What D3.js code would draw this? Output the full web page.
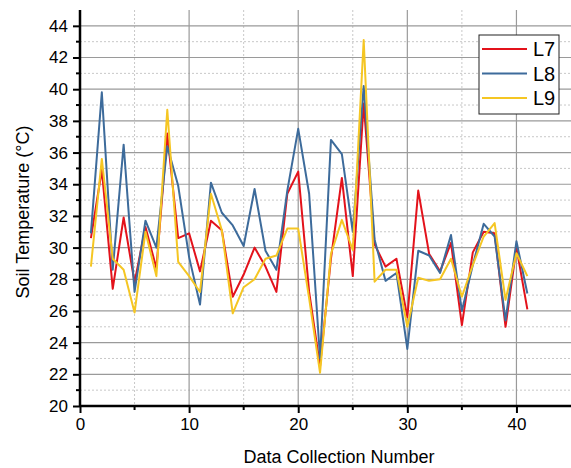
<!DOCTYPE html>
<html>
<head>
<meta charset="utf-8">
<script src="https://d3js.org/d3.v7.min.js"></script>
<style>
  html, body { margin: 0; padding: 0; background: #fff; }
  text { font-family: "Liberation Sans", Arial, sans-serif; fill: #000; }
</style>
</head>
<body>
<script>
// Data
const collectionNumber = [1,2,3,4,5,6,7,8,9,10,11,12,13,14,15,16,17,18,19,20,
  21,22,23,24,25,26,27,28,29,30,31,32,33,34,35,36,37,38,39,40,41];
const l7 = [30.6,34.9,27.4,31.9,27.8,31.3,28.7,37.2,30.6,30.9,28.5,31.7,31.1,26.9,28.3,30.0,28.8,27.2,33.4,34.8,
  27.2,22.5,29.3,34.4,28.2,39.1,30.2,28.8,29.3,25.6,33.6,29.6,28.5,30.3,25.1,29.7,31.0,30.9,25.0,30.0,26.1];
const l8 = [30.9,39.8,28.6,36.5,27.2,31.7,30.0,36.4,33.9,29.4,26.4,34.1,32.2,31.4,30.1,33.7,29.8,28.6,33.6,37.5,
  33.4,23.0,36.8,35.9,31.0,40.2,30.5,27.9,28.4,23.6,29.8,29.5,28.4,30.8,26.0,28.9,31.5,30.7,25.4,30.4,27.1];
const l9 = [28.8,35.6,29.3,28.6,25.9,31.0,28.2,38.7,29.1,28.2,27.2,33.4,31.1,25.85,27.5,28.0,29.3,29.5,31.2,31.2,
  26.8,22.1,29.6,31.75,29.85,43.1,27.85,28.6,28.6,25.0,28.1,27.9,28.0,29.3,26.9,28.9,30.7,31.55,26.7,29.65,28.2];
const seriesNames = ["L7", "L8", "L9"];
const xTicks = [0, 10, 20, 30, 40];
const yTicks = [20, 22, 24, 26, 28, 30, 32, 34, 36, 38, 40, 42, 44];

const width = 571, height = 468;
const pLeft = 80, pRight = 571, pTop = 10, pBottom = 406;
const colors = ["#e3121b", "#3d6b9b", "#f5c623"];

const svg = d3.select("body").append("svg")
  .attr("width", width).attr("height", height);

const x = d3.scaleLinear().domain([0, 45]).range([pLeft, pRight]);
const y = d3.scaleLinear().domain([20, 45]).range([pBottom, pTop]);

// grid: minor dotted, major solid
const grid = svg.append("g");
const xMinor = d3.range(5, 45, 10), yMinor = d3.range(21, 45, 2);
grid.selectAll(".xm").data(xMinor).enter().append("line")
  .attr("x1", d => x(d)).attr("x2", d => x(d)).attr("y1", pTop).attr("y2", pBottom)
  .attr("stroke", "#c8c8c8").attr("stroke-dasharray", "2,2");
grid.selectAll(".ym").data(yMinor).enter().append("line")
  .attr("x1", pLeft).attr("x2", pRight).attr("y1", d => y(d)).attr("y2", d => y(d))
  .attr("stroke", "#c8c8c8").attr("stroke-dasharray", "2,2");
grid.selectAll(".xg").data(xTicks.slice(1)).enter().append("line")
  .attr("x1", d => x(d)).attr("x2", d => x(d)).attr("y1", pTop).attr("y2", pBottom)
  .attr("stroke", "#9a9a9a").attr("stroke-width", 1.2);
grid.selectAll(".yg").data(yTicks.slice(1)).enter().append("line")
  .attr("x1", pLeft).attr("x2", pRight).attr("y1", d => y(d)).attr("y2", d => y(d))
  .attr("stroke", "#9a9a9a").attr("stroke-width", 1.2);

// lines
const line = d3.line().x((d, i) => x(collectionNumber[i])).y(d => y(d));
[l7, l8, l9].forEach((s, k) => {
  svg.append("path").datum(s)
    .attr("d", line)
    .attr("fill", "none")
    .attr("stroke", colors[k])
    .attr("stroke-width", 2)
    .attr("stroke-linejoin", "round");
});

// axes
const xAxis = svg.append("g").attr("transform", `translate(0,${pBottom})`)
  .call(d3.axisBottom(x).tickValues(xTicks).tickSize(7).tickPadding(5).tickFormat(d3.format("d")));
xAxis.append("g").selectAll("line").data(xMinor).enter().append("line")
  .attr("x1", d => x(d)).attr("x2", d => x(d)).attr("y1", 0).attr("y2", 4)
  .attr("stroke", "#000").attr("stroke-width", 2);
const yAxis = svg.append("g").attr("transform", `translate(${pLeft},0)`)
  .call(d3.axisLeft(y).tickValues(yTicks).tickSize(7).tickPadding(5).tickFormat(d3.format("d")));
yAxis.append("g").selectAll("line").data(yMinor).enter().append("line")
  .attr("y1", d => y(d)).attr("y2", d => y(d)).attr("x1", 0).attr("x2", -4)
  .attr("stroke", "#000").attr("stroke-width", 2);

[xAxis, yAxis].forEach(a => {
  a.select(".domain").attr("stroke", "#000").attr("stroke-width", 2.5);
  a.selectAll(".tick line").attr("stroke", "#000").attr("stroke-width", 2);
  a.selectAll(".tick text").style("font-size", "17px")
    .style("font-family", "'Liberation Sans', Arial, sans-serif");
});
xAxis.select(".domain").attr("d", `M${pLeft},0H${pRight}`);
yAxis.select(".domain").attr("d", `M0,${pBottom}V${pTop}`);

// axis titles
svg.append("text")
  .attr("x", 339).attr("y", 463)
  .attr("text-anchor", "middle")
  .style("font-size", "18px")
  .text("Data Collection Number");
svg.append("text")
  .attr("transform", `translate(29,212) rotate(-90)`)
  .attr("text-anchor", "middle")
  .style("font-size", "18px")
  .text("Soil Temperature (°C)");

// legend
const legend = svg.append("g");
legend.append("rect")
  .attr("x", 479).attr("y", 35).attr("width", 80).attr("height", 79)
  .attr("fill", "#fff").attr("stroke", "#222").attr("stroke-width", 1);
seriesNames.forEach((name, k) => {
  const ly = 49 + k * 24.5;
  legend.append("line")
    .attr("x1", 482).attr("x2", 527).attr("y1", ly).attr("y2", ly)
    .attr("stroke", colors[k]).attr("stroke-width", 2);
  legend.append("text")
    .attr("x", 533).attr("y", ly + 7)
    .style("font-size", "20px")
    .text(name);
});
</script>
</body>
</html>
